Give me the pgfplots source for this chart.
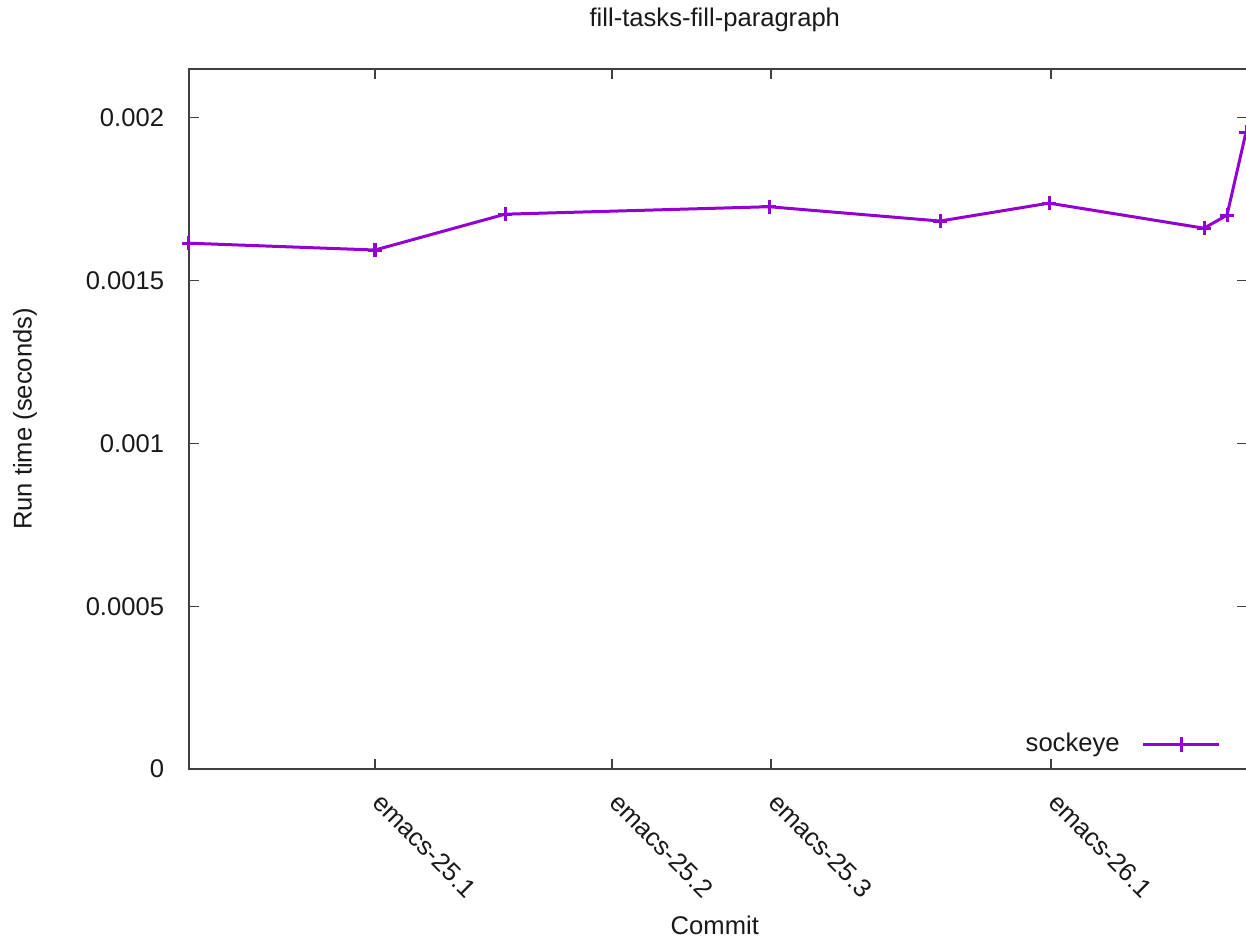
\documentclass[border=0pt]{standalone}
\usepackage{fontspec}
\setmainfont{Liberation Sans}
\usepackage{pgfplots}
\pgfplotsset{compat=1.18}
\definecolor{lc}{HTML}{9400D3}
\definecolor{ax}{HTML}{404040}
\begin{document}
\fontsize{12.8}{15}\selectfont
\begin{tikzpicture}
\begin{axis}[
  at={(0pt,0pt)}, anchor=south west,
  scale only axis, width=529pt, height=350pt,
  xmin=0, xmax=1058, ymin=0, ymax=0.00215,
  axis line style={ax, line width=0.6pt},
  tick align=inside, major tick length=5pt,
  tick style={ax, line width=0.6pt},
  xtick={186,423,582,862},
  xticklabels={emacs-25.1,emacs-25.2,emacs-25.3,emacs-26.1},
  ytick={0,0.0005,0.001,0.0015,0.002},
  yticklabels={0,0.0005,0.001,0.0015,0.002},
  scaled y ticks=false,
  tick label style={font=\fontsize{12.8}{15}\selectfont, text=black!90},
  yticklabel style={xshift=-8pt},
  xticklabel style={xshift=-2pt, yshift=-11.5pt, rotate=-45, anchor=west},
  title={fill-tasks-fill-paragraph},
  every axis title/.style={at={(axis description cs:0.497,1.0614)}, anchor=base, font=\fontsize{12.8}{15}\selectfont, text=black!90},
  xlabel={Commit},
  every axis x label/.style={at={(axis description cs:0.497,-0.2229)}, anchor=center, font=\fontsize{12.8}{15}\selectfont, text=black!90},
  ylabel={Run time (seconds)},
  every axis y label/.style={at={(axis description cs:-0.155,0.5)}, rotate=90, anchor=center, font=\fontsize{12.8}{15}\selectfont, text=black!90},
  legend style={draw=none, fill=none, at={(axis description cs:1,0)}, anchor=south east,
    xshift=-10pt, yshift=2.5pt,
    font=\fontsize{12.8}{15}\selectfont, text=black!90},
  legend cell align=right,
  legend plot pos=right,
  legend image code/.code={\path (0pt,0pt); \draw[mark repeat=2,mark phase=2] plot coordinates {(9pt,0pt) (28pt,0pt) (47pt,0pt)};},
  clip=false,
]
\addplot[color=lc, line width=1.5pt, mark=+, mark size=3.6pt, line join=round] coordinates {
  (0,0.001615) (186,0.001594) (316,0.001704) (580,0.001727) (751,0.001683)
  (860,0.001738) (1015,0.001661) (1038,0.001701) (1057,0.001956)
};
\addlegendentry{sockeye}
\end{axis}
\pgfresetboundingbox
\path[use as bounding box] (-94.5pt,-86.5pt) rectangle (528.5pt,384.5pt);
\end{tikzpicture}
\end{document}
